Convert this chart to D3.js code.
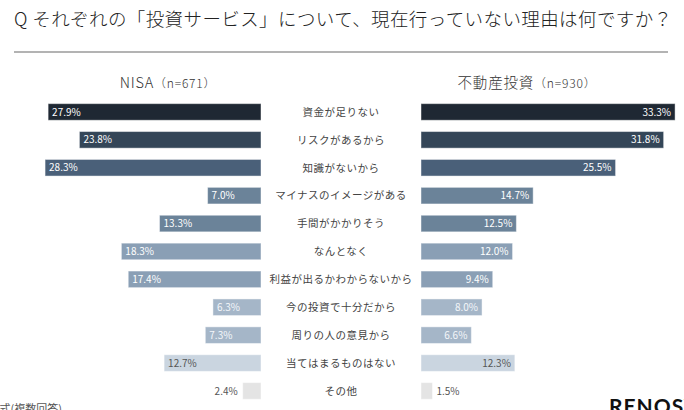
<!DOCTYPE html>
<html>
<head>
<meta charset="utf-8">
<script src="https://cdn.jsdelivr.net/npm/d3@7"></script>
<style>
  body { margin: 0; background: #fff; }
  svg { display: block; font-family: "Noto Sans CJK JP", "Noto Sans", sans-serif; }
</style>
</head>
<body>
<svg id="chart"></svg>
<script>
// chart data
const titleText = 'Q それぞれの「投資サービス」について、現在行っていない理由は何ですか？';
const reasons = ['資金が足りない', 'リスクがあるから', '知識がないから', 'マイナスのイメージがある',
    '手間がかかりそう', 'なんとなく', '利益が出るかわからないから', '今の投資で十分だから',
    '周りの人の意見から', '当てはまるものはない', 'その他'];
const nisaValues = [27.9, 23.8, 28.3, 7.0, 13.3, 18.3, 17.4, 6.3, 7.3, 12.7, 2.4];
const estateValues = [33.3, 31.8, 25.5, 14.7, 12.5, 12.0, 9.4, 8.0, 6.6, 12.3, 1.5];
const seriesNames = ['NISA', '不動産投資'];
const seriesN = ['（n=671）', '（n=930）'];

const barColors = ['#1f2833', '#344658', '#4a6079', '#6b8399', '#6b8399', '#8a9fb5',
    '#8a9fb5', '#a5b6c8', '#a5b6c8', '#cad5e0', '#e4e4e4'];
const labelColors = ['#fff', '#fff', '#fff', '#fff', '#fff', '#fff', '#fff',
    '#f4f7fa', '#f4f7fa', '#555', '#555'];

const width = 684, height = 410;

const svg = d3.select('#chart')
    .attr('width', width)
    .attr('height', height);

// title + rule
svg.append('text')
    .attr('x', 14)
    .attr('y', 26)
    .attr('font-size', 18.5)
    .attr('font-weight', 300)
    .attr('letter-spacing', 0.4)
    .attr('fill', '#222')
    .text(titleText);

svg.append('line')
    .attr('x1', 14).attr('x2', 668)
    .attr('y1', 52).attr('y2', 52)
    .attr('stroke', '#9a9a9a')
    .attr('stroke-width', 1.5);

// scales
const pxPerPct = 7.63;
const xLeft = d3.scaleLinear().domain([0, 35]).range([261, 261 - 35 * pxPerPct]);
const xRight = d3.scaleLinear().domain([0, 35]).range([421, 421 + 35 * pxPerPct]);
const y = d3.scaleBand()
    .domain(reasons)
    .range([98, 98 + reasons.length * 27.9])
    .paddingInner(0.405)
    .paddingOuter(0.2025);

// series headers
const headers = [{x: 168, i: 0}, {x: 527, i: 1}];
headers.forEach(h => {
    const t = svg.append('text')
        .attr('x', h.x)
        .attr('y', 88)
        .attr('text-anchor', 'middle')
        .attr('font-weight', 300)
        .attr('fill', '#333')
        .attr('letter-spacing', 0.8);
    t.append('tspan').attr('font-size', 14.5).text(seriesNames[h.i]);
    t.append('tspan').attr('font-size', 12).text(seriesN[h.i]);
});

const rows = reasons.map((r, i) => ({reason: r, nisa: nisaValues[i], estate: estateValues[i], i: i}));

// category labels
svg.selectAll('.cat-label')
    .data(rows)
    .join('text')
    .attr('class', 'cat-label')
    .attr('x', 341)
    .attr('y', d => y(d.reason) + y.bandwidth() / 2)
    .attr('dy', '0.36em')
    .attr('text-anchor', 'middle')
    .attr('font-size', 10.5)
    .attr('letter-spacing', 0.5)
    .attr('fill', '#444')
    .text(d => d.reason);

// left bars (NISA)
svg.selectAll('.bar-left')
    .data(rows)
    .join('rect')
    .attr('class', 'bar-left')
    .attr('x', d => xLeft(d.nisa))
    .attr('y', d => y(d.reason))
    .attr('width', d => xLeft(0) - xLeft(d.nisa))
    .attr('height', y.bandwidth())
    .attr('fill', d => barColors[d.i])
    .attr('stroke', 'rgba(255,255,255,0.45)')
    .attr('stroke-width', 1);

// right bars (不動産投資)
svg.selectAll('.bar-right')
    .data(rows)
    .join('rect')
    .attr('class', 'bar-right')
    .attr('x', xRight(0))
    .attr('y', d => y(d.reason))
    .attr('width', d => xRight(d.estate) - xRight(0))
    .attr('height', y.bandwidth())
    .attr('fill', d => barColors[d.i])
    .attr('stroke', 'rgba(255,255,255,0.45)')
    .attr('stroke-width', 1);

// value labels, small bars get the label outside
const minInside = 4;
svg.selectAll('.val-left')
    .data(rows)
    .join('text')
    .attr('class', 'val-left')
    .attr('x', d => d.nisa < minInside ? xLeft(d.nisa) - 5 : xLeft(d.nisa) + 4)
    .attr('y', d => y(d.reason) + y.bandwidth() / 2)
    .attr('dy', '0.36em')
    .attr('text-anchor', d => d.nisa < minInside ? 'end' : 'start')
    .attr('font-size', 10)
    .attr('fill', d => labelColors[d.i])
    .text(d => d.nisa.toFixed(1) + '%');

svg.selectAll('.val-right')
    .data(rows)
    .join('text')
    .attr('class', 'val-right')
    .attr('x', d => d.estate < minInside ? xRight(d.estate) + 4 : xRight(d.estate) - 4)
    .attr('y', d => y(d.reason) + y.bandwidth() / 2)
    .attr('dy', '0.36em')
    .attr('text-anchor', d => d.estate < minInside ? 'start' : 'end')
    .attr('font-size', 10)
    .attr('fill', d => labelColors[d.i])
    .text(d => d.estate.toFixed(1) + '%');

// footer note + logo (both cut off by the frame, as in the source)
svg.append('text')
    .attr('x', 62)
    .attr('y', 413)
    .attr('text-anchor', 'end')
    .attr('font-size', 11)
    .attr('fill', '#555')
    .text('選択式(複数回答)');

svg.append('text')
    .attr('x', 609)
    .attr('y', 414)
    .attr('font-size', 21)
    .attr('font-weight', 'bold')
    .attr('letter-spacing', 1)
    .attr('font-family', 'Lato, "Noto Sans", sans-serif')
    .attr('fill', '#111')
    .text('RENOSY');
</script>
</body>
</html>
